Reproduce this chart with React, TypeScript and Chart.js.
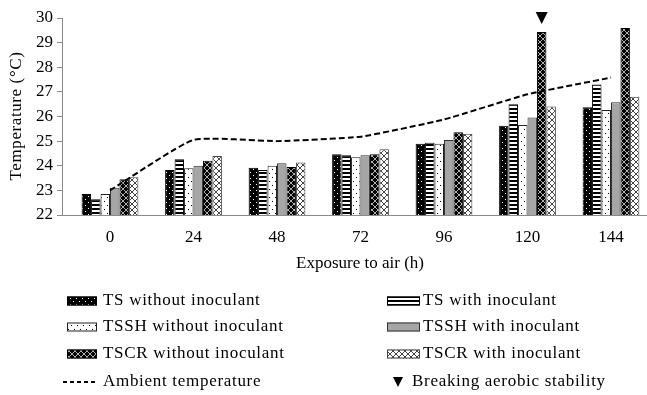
import React, { useEffect, useRef } from "react";
import { Chart, registerables } from "chart.js";
Chart.register(...registerables);

// ---- data ----
const hours = [0, 24, 48, 72, 96, 120, 144];
const tsWithout = [22.85, 23.83, 23.92, 24.47, 24.89, 25.62, 26.38];
const tsWith = [22.64, 24.26, 23.83, 24.43, 24.93, 26.5, 27.3];
const tsshWithout = [22.85, 23.9, 24.0, 24.35, 24.89, 25.65, 26.26];
const tsshWith = [23.11, 24.0, 24.1, 24.43, 25.05, 25.96, 26.58];
const tscrWithout = [23.45, 24.2, 23.95, 24.47, 25.36, 29.43, 29.59];
const tscrWith = [23.53, 24.4, 24.13, 24.67, 25.3, 26.41, 26.8];
const ambient = [23.0, 25.05, 25.0, 25.18, 25.88, 26.9, 27.58];
const seriesLabels = [
  "TS without inoculant",
  "TS with inoculant",
  "TSSH without inoculant",
  "TSSH with inoculant",
  "TSCR without inoculant",
  "TSCR with inoculant",
];
const ambientLabel = "Ambient temperature";
const breakingLabel = "Breaking aerobic stability";
const breakingSeriesIndex = 4;
const breakingHourIndex = 5;
const breakingMarkerValue = 30;
const yMin = 22;
const yMax = 30;
const xTitle = "Exposure to air (h)";
const yTitle = "Temperature (°C)";

const FONT = "'Liberation Serif', 'Times New Roman', serif";

function pattern(
  ctx: CanvasRenderingContext2D,
  w: number,
  h: number,
  draw: (g: CanvasRenderingContext2D) => void
): CanvasPattern {
  const c = document.createElement("canvas");
  c.width = w;
  c.height = h;
  const g = c.getContext("2d")!;
  draw(g);
  return ctx.createPattern(c, "repeat")!;
}

function makeFills(ctx: CanvasRenderingContext2D) {
  const p1 = pattern(ctx, 6, 6, (g) => {
    g.fillStyle = "#000";
    g.fillRect(0, 0, 6, 6);
    g.fillStyle = "#fff";
    g.fillRect(1, 1, 1, 1);
    g.fillRect(4, 4, 1, 1);
  });
  const p2 = pattern(ctx, 4, 4, (g) => {
    g.fillStyle = "#fff";
    g.fillRect(0, 0, 4, 4);
    g.fillStyle = "#000";
    g.fillRect(0, 0, 4, 2);
  });
  const p3 = pattern(ctx, 6, 8, (g) => {
    g.fillStyle = "#fff";
    g.fillRect(0, 0, 6, 8);
    g.fillStyle = "#000";
    g.fillRect(2, 1, 1, 1);
    g.fillRect(5, 5, 1, 1);
  });
  const p4 = "#a6a6a6";
  const p5 = pattern(ctx, 6, 6, (g) => {
    g.fillStyle = "#000";
    g.fillRect(0, 0, 6, 6);
    g.fillStyle = "#b0b0b0";
    for (let i = 0; i < 6; i++) {
      g.fillRect(i, i, 1, 1);
      g.fillRect(5 - i, i, 1, 1);
    }
  });
  const p6 = pattern(ctx, 6, 6, (g) => {
    g.fillStyle = "#fff";
    g.fillRect(0, 0, 6, 6);
    g.fillStyle = "#444";
    for (let i = 0; i < 6; i++) {
      g.fillRect(i, i, 1, 1);
      g.fillRect(5 - i, i, 1, 1);
    }
  });
  return [p1, p2, p3, p4, p5, p6];
}

const borderColors = ["#000", "#000", "#222", "#333", "#000", "#444"];

export default function App() {
  const ref = useRef<HTMLCanvasElement>(null);

  useEffect(() => {
    const canvas = ref.current!;
    const ctx = canvas.getContext("2d")!;
    const fills = makeFills(ctx);
    const seriesValues = [tsWithout, tsWith, tsshWithout, tsshWith, tscrWithout, tscrWith];

    const barSets = seriesValues.map((vals, i) => ({
      type: "bar" as const,
      label: seriesLabels[i],
      data: hours.map((h, j) => ({ x: h, y: vals[j] })),
      backgroundColor: fills[i] as any,
      borderColor: borderColors[i],
      borderWidth: 1,
      barPercentage: 1,
      categoryPercentage: 0.68,
      order: 1,
    }));

    const lineSet = {
      type: "line" as const,
      label: ambientLabel,
      data: hours.map((h, j) => ({ x: h, y: ambient[j] })),
      borderColor: "#000",
      borderWidth: 2,
      borderDash: [6, 3],
      pointRadius: 0,
      fill: false,
      tension: 0.15,
      order: 0,
    };

    const overlay = {
      id: "overlay",
      afterDraw(chart: any) {
        const c: CanvasRenderingContext2D = chart.ctx;
        // breaking marker
        const bar = chart.getDatasetMeta(breakingSeriesIndex).data[breakingHourIndex];
        const yc = chart.scales.y.getPixelForValue(breakingMarkerValue);
        c.save();
        c.fillStyle = "#000";
        c.beginPath();
        c.moveTo(bar.x - 6, yc - 6);
        c.lineTo(bar.x + 6, yc - 6);
        c.lineTo(bar.x, yc + 6);
        c.closePath();
        c.fill();

        // titles
        c.fillStyle = "#000";
        c.font = `17px ${FONT}`;
        c.textBaseline = "middle";
        c.textAlign = "center";
        c.fillText(xTitle, 360, 264);
        c.save();
        c.translate(17, 116);
        c.rotate(-Math.PI / 2);
        (c as any).letterSpacing = "0.6px";
        c.fillText(yTitle, 0, 0);
        c.restore();

        // legend
        (c as any).letterSpacing = "0.7px";
        c.textAlign = "left";
        const rows = [301, 327, 354, 382];
        for (let i = 0; i < 6; i++) {
          const col = i % 2;
          const row = Math.floor(i / 2);
          const y = rows[row];
          const sx = col === 0 ? 67 : 387;
          const sw = col === 0 ? 30 : 33;
          c.fillStyle = fills[i] as any;
          c.fillRect(sx, y - 4.5, sw, 9);
          c.strokeStyle = borderColors[i];
          c.lineWidth = 1;
          c.strokeRect(sx + 0.5, y - 4.5 + 0.5, sw - 1, 8);
          c.fillStyle = "#000";
          c.fillText(seriesLabels[i], col === 0 ? 103 : 423, y);
        }
        // ambient legend
        c.strokeStyle = "#000";
        c.lineWidth = 2;
        c.setLineDash([4, 3]);
        c.beginPath();
        c.moveTo(63, rows[3]);
        c.lineTo(97, rows[3]);
        c.stroke();
        c.setLineDash([]);
        c.fillText(ambientLabel, 103, rows[3]);
        // breaking legend
        c.beginPath();
        c.moveTo(393, rows[3] - 5);
        c.lineTo(403, rows[3] - 5);
        c.lineTo(398, rows[3] + 5);
        c.closePath();
        c.fill();
        c.fillText(breakingLabel, 412, rows[3]);
        c.restore();
      },
    };

    const chart = new Chart(ctx, {
      type: "bar",
      data: { datasets: [...barSets, lineSet] as any },
      options: {
        animation: false,
        responsive: false,
        devicePixelRatio: 1,
        layout: { padding: { top: 18, left: 0, right: 0, bottom: 0 } },
        plugins: { legend: { display: false }, tooltip: { enabled: false } },
        scales: {
          x: {
            type: "linear",
            offset: false,
            min: -13.8,
            max: 154.35,
            afterBuildTicks: (s: any) => {
              s.ticks = hours.map((v) => ({ value: v }));
            },
            afterFit: (s: any) => {
              s.height = 180;
            },
            grid: { display: false, drawTicks: false, offset: false },
            border: { color: "#8a8a8a", width: 1 },
            ticks: {
              padding: 12,
              autoSkip: false,
              maxRotation: 0,
              color: "#000",
              font: { family: FONT, size: 17 },
              callback: (v: any) => String(v),
            },
          },
          y: {
            min: yMin,
            max: yMax,
            afterFit: (s: any) => {
              s.width = 62;
            },
            grid: { drawOnChartArea: false, drawTicks: true, tickLength: 5, color: "#8a8a8a" },
            border: { color: "#8a8a8a", width: 1 },
            ticks: {
              stepSize: 1,
              padding: 4,
              color: "#000",
              font: { family: FONT, size: 17 },
            },
          },
        },
      } as any,
      plugins: [overlay],
    });
    return () => chart.destroy();
  }, []);

  return (
    <div style={{ position: "fixed", left: 0, top: 0, width: 647, height: 395, background: "#fff" }}>
      <canvas ref={ref} width={647} height={395} style={{ width: 647, height: 395, display: "block" }} />
    </div>
  );
}
